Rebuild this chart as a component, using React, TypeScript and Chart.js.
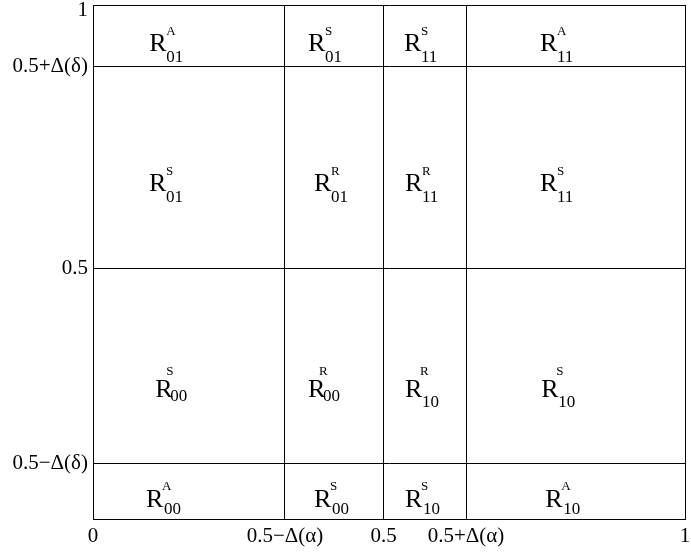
import { useEffect, useRef } from 'react';
import { Chart, registerables } from 'chart.js';

Chart.register(...registerables);

// Axis ticks (region boundaries)
const xTickValues = [0, 0.3243, 0.491, 0.6301, 1];
const xTickLabels = ['0', '0.5−Δ(α)', '0.5', '0.5+Δ(α)', '1'];
const yTickValues = [0, 0.108, 0.488, 0.88, 1];
const yTickLabels: (string | string[])[] = ['', '0.5−Δ(δ)', '0.5', '0.5+Δ(δ)', ['', '1']];

// Region labels R^{sup}_{sub}, anchored at the left/baseline of the "R"
const cellX = [0.0951, 0.363, 0.5253, 0.755, 0.0946, 0.3733, 0.527, 0.755, 0.105, 0.363, 0.527, 0.757, 0.0895, 0.3733, 0.527, 0.764];
const cellY = [0.911, 0.911, 0.911, 0.911, 0.639, 0.639, 0.639, 0.639, 0.237, 0.237, 0.237, 0.237, 0.0239, 0.0239, 0.0239, 0.0239];
const cellSup = ['A', 'S', 'S', 'A', 'S', 'R', 'R', 'S', 'S', 'R', 'R', 'S', 'A', 'S', 'S', 'A'];
const cellSub = ['01', '01', '11', '11', '01', '01', '11', '11', '00', '00', '10', '10', '00', '00', '10', '10'];
const cellLayout = ['side', 'side', 'side', 'side', 'side', 'side', 'side', 'side', 'over', 'over', 'overLow', 'overLow', 'low', 'low', 'low', 'low'];

const layouts: Record<string, { supDx: number; supDy: number; subDx: number; subDy: number }> = {
  side: { supDx: 17, supDy: -16, subDx: 17, subDy: 11 },
  over: { supDx: 11, supDy: -22, subDx: 15, subDy: 4 },
  overLow: { supDx: 15, supDy: -22, subDx: 17, subDy: 10 },
  low: { supDx: 16, supDy: -17, subDx: 18, subDy: 7 },
};

const FONT = '"Liberation Serif", "Times New Roman", serif';

const cellLabelPlugin = {
  id: 'cellLabels',
  afterDatasetsDraw(chart: any) {
    const ctx = chart.ctx;
    const meta = chart.getDatasetMeta(0);
    meta.data.forEach((pt: any, i: number) => {
      const { x, y } = pt.getProps(['x', 'y'], true);
      const lay = layouts[cellLayout[i]];
      ctx.save();
      ctx.fillStyle = '#000';
      ctx.textAlign = 'left';
      ctx.textBaseline = 'alphabetic';
      ctx.font = `26px ${FONT}`;
      ctx.fillText('R', x, y);
      ctx.font = `13px ${FONT}`;
      ctx.fillText(cellSup[i], x + lay.supDx, y + lay.supDy);
      ctx.font = `17px ${FONT}`;
      ctx.fillText(cellSub[i], x + lay.subDx, y + lay.subDy);
      ctx.restore();
    });
  },
};

export default function App() {
  const ref = useRef<HTMLCanvasElement | null>(null);

  useEffect(() => {
    if (!ref.current) return;
    const chart = new Chart(ref.current, {
      type: 'scatter',
      data: {
        datasets: [
          {
            data: cellX.map((x, i) => ({ x, y: cellY[i] })),
            pointRadius: 0,
            pointHoverRadius: 0,
          },
        ],
      },
      options: {
        animation: false,
        responsive: false,
        events: [],
        layout: { padding: { left: 0, top: 5, right: 6, bottom: 0 } },
        plugins: { legend: { display: false }, tooltip: { enabled: false } },
        scales: {
          x: {
            type: 'linear',
            min: 0,
            max: 1,
            afterBuildTicks: (s: any) => {
              s.ticks = xTickValues.map((v) => ({ value: v }));
            },
            afterFit: (s: any) => {
              s.height = 38;
              s.paddingLeft = 0;
              s.paddingRight = 0;
            },
            ticks: {
              autoSkip: false,
              maxRotation: 0,
              padding: 0,
              color: '#000',
              font: { family: FONT, size: 21, lineHeight: 1.71 },
              callback: (_v: any, i: number) => xTickLabels[i],
            },
            grid: { color: '#000', lineWidth: 1, drawTicks: false },
            border: { display: true, color: '#000', width: 1 },
          },
          y: {
            type: 'linear',
            min: 0,
            max: 1,
            afterBuildTicks: (s: any) => {
              s.ticks = yTickValues.map((v) => ({ value: v }));
            },
            afterFit: (s: any) => {
              s.width = 93;
              s.paddingTop = 0;
              s.paddingBottom = 0;
            },
            ticks: {
              autoSkip: false,
              padding: 5,
              color: '#000',
              font: { family: FONT, size: 21, lineHeight: 0.524 },
              callback: (_v: any, i: number) => yTickLabels[i],
            },
            grid: { color: '#000', lineWidth: 1, drawTicks: false },
            border: { display: true, color: '#000', width: 1 },
          },
        },
      },
      plugins: [cellLabelPlugin],
    });
    return () => chart.destroy();
  }, []);

  return (
    <div style={{ position: 'fixed', left: 0, top: 0, width: 691, height: 557, background: '#fff' }}>
      <canvas ref={ref} width={691} height={557} style={{ display: 'block' }} />
    </div>
  );
}
